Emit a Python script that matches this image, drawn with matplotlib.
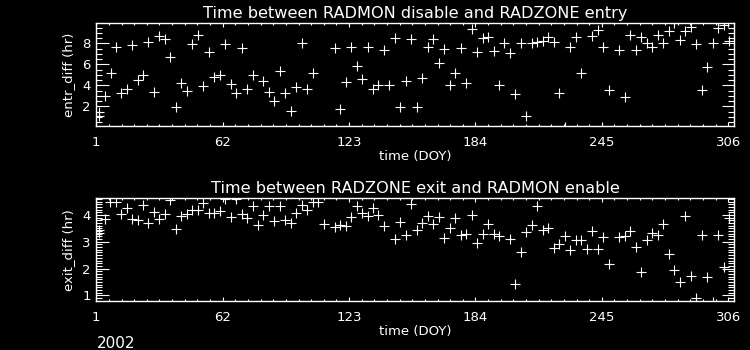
import numpy as np
import matplotlib
matplotlib.use('Agg')
import matplotlib.pyplot as plt
from matplotlib.ticker import FixedLocator, MultipleLocator

# radmon entry: day of year and time difference (hr)
entr_doy = [2.2, 2.2, 5.2, 7.95, 10.65, 13.07, 15.96, 18.37, 21.27, 23.68,
            26.1, 28.99, 31.4, 34.3, 36.7, 39.6, 42.0, 44.9, 47.3, 50.2,
            52.6, 55.5, 57.9, 60.8, 63.3, 66.2, 68.6, 71.5, 73.9, 76.8,
            81.6, 84.5, 86.9, 89.8, 92.2, 95.1, 97.5, 100.4, 102.8, 105.7,
            116.3, 118.8, 121.7, 124.1, 127.0, 129.4, 132.3, 134.7, 137.1, 140.0,
            142.4, 145.3, 147.7, 150.6, 153.0, 155.9, 158.3, 161.2, 163.6, 166.5,
            169.0, 171.8, 174.3, 177.2, 179.6, 182.5, 184.9, 187.8, 190.2, 193.1,
            195.5, 197.9, 200.8, 203.2, 206.1, 208.5, 211.4, 213.8, 216.7, 219.1,
            222.0, 224.5, 227.3, 229.8, 232.7, 235.1, 240.4, 243.3, 245.7, 248.6,
            253.4, 256.3, 258.7, 261.6, 264.0, 266.9, 269.3, 272.2, 274.6, 277.5,
            279.9, 282.9, 285.3, 288.2, 290.6, 293.5, 295.9, 298.8, 301.2, 304.1,
            306.5]
entr_diff = [1.43, 1.1, 3.01, 5.14, 7.62, 3.24, 3.65, 7.81, 4.48, 5.01,
             8.12, 3.33, 8.7, 8.41, 6.67, 1.93, 4.19, 3.43, 7.9, 8.76,
             3.93, 7.14, 4.76, 4.95, 7.9, 4.1, 3.24, 7.52, 3.65, 4.95,
             4.38, 3.33, 2.48, 5.33, 3.24, 1.52, 3.81, 8.0, 3.62, 5.14,
             7.52, 1.71, 4.29, 7.62, 5.81, 4.57, 7.62, 3.62, 4.0, 7.33,
             4.0, 8.48, 1.9, 4.38, 8.38, 1.9, 4.67, 7.62, 8.38, 6.1,
             7.43, 4.0, 5.14, 7.52, 4.19, 9.36, 7.14, 8.48, 8.57, 7.24,
             4.0, 8.0, 7.05, 3.14, 8.0, 1.05, 8.0, 8.12, 8.25, 8.57,
             8.12, 3.24, 0.05, 7.62, 8.57, 5.14, 8.67, 9.24, 7.62, 3.52,
             7.33, 2.86, 8.76, 7.33, 8.57, 8.0, 7.62, 8.76, 8.0, 9.14,
             9.95, 8.29, 9.14, 9.52, 7.9, 3.52, 5.71, 8.0, 9.43, 9.71,
             8.19]

# radmon exit
exit_doy = [2.16, 2.16, 5.34, 7.85, 10.6, 13.07, 15.96, 18.37, 21.27, 23.68,
            26.1, 28.99, 31.4, 34.3, 36.7, 39.6, 42.0, 44.9, 47.3, 50.2,
            52.6, 55.5, 57.9, 60.8, 63.3, 66.2, 68.6, 71.5, 73.9, 76.8,
            79.2, 81.6, 84.5, 86.9, 89.8, 92.2, 95.1, 97.5, 100.4, 102.8,
            105.7, 108.1, 111.0, 116.3, 118.8, 121.7, 124.1, 127.0, 129.4, 132.3,
            134.7, 137.1, 140.0, 145.3, 147.7, 150.6, 153.0, 155.9, 158.3, 161.2,
            163.6, 166.5, 169.0, 171.8, 174.3, 177.2, 179.6, 182.5, 184.9, 187.8,
            190.2, 193.1, 195.5, 200.8, 203.2, 206.1, 208.5, 211.4, 213.8, 216.7,
            219.1, 222.0, 224.5, 227.3, 229.8, 232.7, 235.1, 238.0, 240.4, 243.3,
            245.7, 248.6, 253.4, 256.3, 258.7, 261.6, 264.0, 266.9, 269.3, 272.2,
            274.6, 277.5, 279.9, 282.9, 285.3, 288.2, 290.6, 293.5, 295.9, 298.8,
            301.2, 304.1, 306.5]
exit_diff = [3.43, 3.32, 3.84, 4.5, 4.5, 4.03, 4.25, 3.84, 3.8, 4.36,
             3.69, 4.1, 3.84, 4.03, 4.56, 3.47, 3.95, 4.03, 4.18, 4.18,
             4.44, 4.06, 4.06, 4.14, 4.6, 3.91, 4.6, 4.03, 3.88, 4.32,
             3.62, 3.99, 4.32, 3.76, 4.32, 3.8, 3.69, 4.06, 4.36, 4.18,
             4.47, 4.47, 3.65, 3.54, 3.62, 3.58, 3.91, 4.32, 4.06, 3.95,
             4.25, 3.99, 3.58, 3.09, 3.73, 3.24, 4.4, 3.43, 3.69, 3.95,
             3.65, 3.91, 3.13, 3.5, 3.88, 3.24, 3.28, 3.99, 2.94, 3.28,
             3.65, 3.28, 3.2, 3.09, 1.41, 2.61, 3.35, 3.62, 4.32, 3.43,
             3.5, 2.76, 2.91, 3.2, 2.68, 3.05, 3.05, 2.72, 3.39, 2.72,
             3.17, 2.16, 3.17, 3.2, 3.39, 2.79, 1.86, 3.05, 3.32, 3.24,
             3.65, 2.53, 1.93, 1.49, 3.95, 1.71, 0.89, 3.24, 1.67, 0.75,
             3.24, 2.05, 3.88]

xticks = [1, 62, 123, 184, 245, 306]

plt.rcParams['font.family'] = 'DejaVu Sans'
fig = plt.figure(figsize=(7.5, 3.5), dpi=100, facecolor='black')


def setup(ax, ylim, ymajor, yminor):
    ax.set_facecolor('black')
    for s in ax.spines.values():
        s.set_color('white')
        s.set_linewidth(1.0)
    ax.set_xlim(1, 308.8)
    ax.set_ylim(*ylim)
    ax.xaxis.set_major_locator(FixedLocator(xticks))
    ax.xaxis.set_minor_locator(FixedLocator(np.arange(1, 309, 6.1)))
    ax.yaxis.set_major_locator(MultipleLocator(ymajor))
    ax.yaxis.set_minor_locator(MultipleLocator(yminor))
    ax.tick_params(axis='x', which='major', direction='in', length=3, width=0.8,
                   color='white', labelcolor='white', labelsize=9.5, pad=7,
                   top=True, bottom=True)
    ax.tick_params(axis='x', which='minor', direction='in', length=1.5, width=0.8,
                   color='white', top=True, bottom=True)
    ax.tick_params(axis='y', which='major', direction='in', length=9, width=0.8,
                   color='white', labelcolor='white', labelsize=9.5, pad=4,
                   left=True, right=True)
    ax.tick_params(axis='y', which='minor', direction='in', length=4.5, width=0.8,
                   color='white', left=True, right=True)
    ax.set_xlabel('time (DOY)', color='white', fontsize=9.5)
    ax.xaxis.set_label_coords(0.5, -0.30)
    ax.xaxis.label.set_va('center')
    ax.yaxis.set_label_coords(-0.043, 0.5)
    ax.yaxis.label.set_va('center')


ax1 = fig.add_axes([0.1284, 0.64, 0.8503, 0.2934])
setup(ax1, (0.124, 9.905), 2, 0.5)
ax1.plot(entr_doy, entr_diff, linestyle='none', marker='+', color='white',
         markersize=6.5, markeredgewidth=0.8)
ax1.set_ylabel('entr_diff (hr)', color='white', fontsize=9.5)
ax1.set_title('Time between RADMON disable and RADZONE entry', color='white',
              fontsize=11.6, pad=4)

ax2 = fig.add_axes([0.1284, 0.14, 0.8503, 0.2934])
setup(ax2, (0.787, 4.624), 1, 0.1)
ax2.plot(exit_doy, exit_diff, linestyle='none', marker='+', color='white',
         markersize=6.5, markeredgewidth=0.8)
ax2.set_ylabel('exit_diff (hr)', color='white', fontsize=9.5)
ax2.set_title('Time between RADZONE exit and RADMON enable', color='white',
              fontsize=11.6, pad=4)

fig.text(97 / 750, 1 - 343 / 350, '2002', color='white', fontsize=11,
         ha='left', va='center')

fig.savefig('out.png', dpi=100, facecolor='black')
